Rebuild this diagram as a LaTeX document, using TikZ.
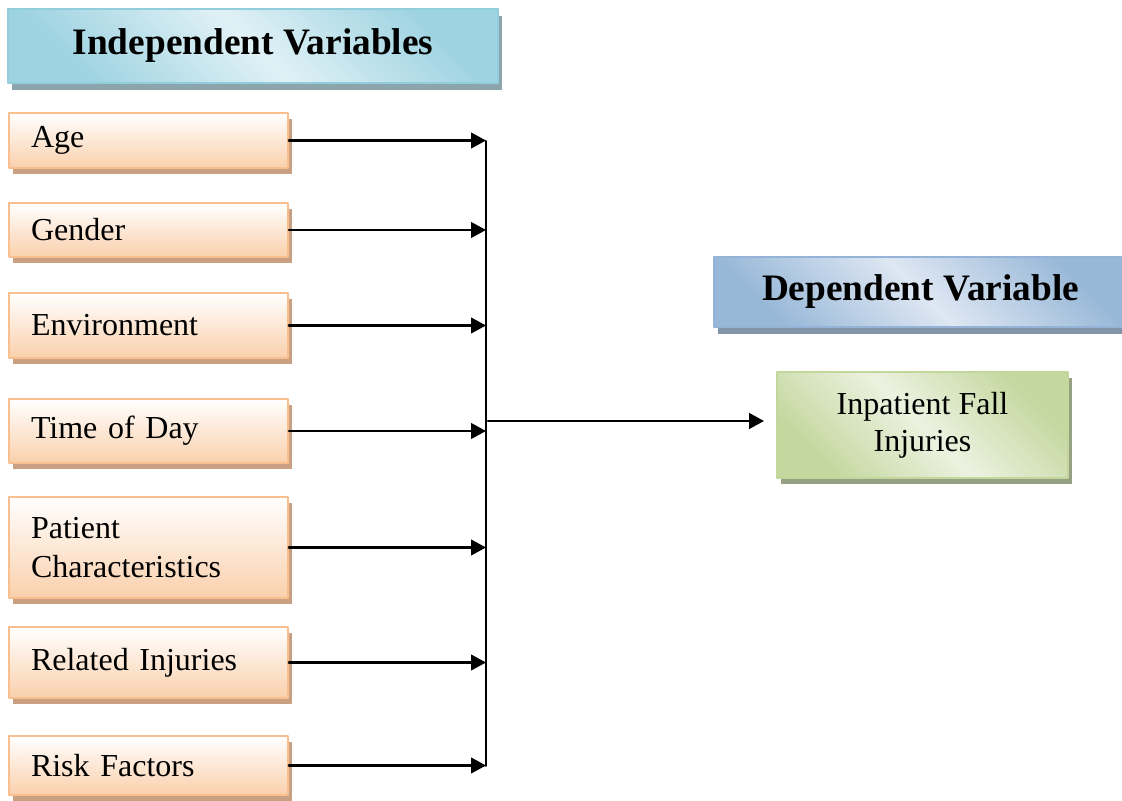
\documentclass[tikz,border=0pt]{standalone}
\usepackage{fontspec}
\setmainfont{Liberation Serif}
\usetikzlibrary{arrows.meta}
\usetikzlibrary{shadows}

\definecolor{ivborder}{RGB}{250,191,143}
\definecolor{ivdark}{RGB}{250,208,172}
\definecolor{ivshadow}{RGB}{201,160,130}
\definecolor{hdborder}{RGB}{146,205,220}
\definecolor{hddark}{RGB}{158,211,225}
\definecolor{hdlight}{RGB}{224,241,246}
\definecolor{hdshadow}{RGB}{140,165,172}
\definecolor{dvborder}{RGB}{149,179,215}
\definecolor{dvdark}{RGB}{152,184,216}
\definecolor{dvlight}{RGB}{222,231,243}
\definecolor{dvshadow}{RGB}{130,148,168}
\definecolor{inborder}{RGB}{195,214,155}
\definecolor{indark}{RGB}{196,215,158}
\definecolor{inlight}{RGB}{236,242,224}
\definecolor{inshadow}{RGB}{150,160,130}

\tikzset{
  glossy/.style 2 args={top color=#1,bottom color=#1,middle color=#2,shading angle=-45},
  headbox/.style={draw=#1border,line width=0.75pt,glossy={#1dark}{#1light},
    drop shadow={shadow xshift=1.5pt,shadow yshift=-2.5pt,fill=#1shadow,opacity=1},
    inner sep=0pt,font=\fontsize{14}{17}\selectfont\bfseries},
  varbox/.style={draw=ivborder,line width=0.75pt,top color=white,bottom color=ivdark,
    drop shadow={shadow xshift=1.5pt,shadow yshift=-2.25pt,fill=ivshadow,opacity=1},
    anchor=west,inner xsep=8.25pt,inner ysep=0pt,text width=88.1pt,align=left,
    minimum height=#1,font=\fontsize{12}{14.4}\selectfont},
  link/.style={line width=1pt,->}
}

\begin{document}
\begin{tikzpicture}[line cap=round,line join=round,>={Triangle[length=5.6pt,width=5.8pt]},x=0.375pt,y=-0.375pt]
\useasboundingbox (0,0) rectangle (1122,801);
% headers
\node[headbox=hd,minimum width=183.75pt,minimum height=27.75pt] (indep) at (253,46) {Independent Variables};
\node[headbox=dv,minimum width=154.9pt,minimum height=26.25pt] (dep) at (920.5,292) {Dependent Variable};
% independent variables
\node[varbox=20.6pt] (age) at (8,140.5) {Age};
\node[varbox=20.25pt] (gender) at (8,230) {Gender};
\node[varbox=24.4pt] (env) at (8,325.5) {Environment};
\node[varbox=24pt] (time) at (8,431) {Time of Day};
\node[varbox=37.9pt] (patient) at (8,547.5) {Patient\\Characteristics};
\node[varbox=26.6pt] (related) at (8,662.5) {Related Injuries};
\node[varbox=22.1pt] (risk) at (8,765.5) {Risk Factors};
% dependent variable
\node[draw=inborder,line width=0.75pt,glossy={indark}{inlight},
  drop shadow={shadow xshift=1.5pt,shadow yshift=-2.25pt,fill=inshadow,opacity=1},
  minimum width=109.1pt,minimum height=39.75pt,align=center,
  font=\fontsize{12}{14}\selectfont] (inpat) at (922.5,425) {Inpatient Fall\\Injuries};
% connectors
\coordinate (bustop) at (486,141);
\coordinate (busbot) at (486,766);
\draw[line width=0.75pt] (bustop) -- (busbot);
\foreach \v in {age,gender,env,time,patient,related,risk}
  \draw[link] (\v.east) -- (\v.east -| bustop);
\coordinate (junc) at (488,421);
\draw[link,shorten >=4.5pt] (junc) -- (junc -| inpat.west);
\end{tikzpicture}
\end{document}
